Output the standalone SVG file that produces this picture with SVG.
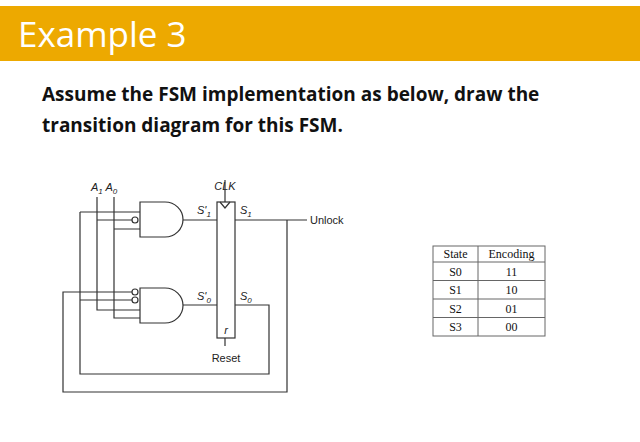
<svg xmlns="http://www.w3.org/2000/svg" width="640" height="442" viewBox="0 0 640 442">
<style>
.w{fill:none;stroke:#333;stroke-width:1.2}
.l{font-family:"Liberation Sans",Arial,sans-serif;font-size:11px;fill:#222}
.t{font-family:"Liberation Serif",serif;font-size:12px;fill:#111;text-anchor:middle}
.b{fill:#fff;stroke:#333;stroke-width:1.2}
</style>
<rect width="640" height="442" fill="#fff"/>
<rect x="0" y="6" width="640" height="55" fill="#EDA900"/>
<text x="18" y="47" font-family="Open Sans,sans-serif" font-size="35" fill="#fff">Example 3</text>
<text font-family="Open Sans,sans-serif" font-size="19" font-weight="bold" fill="#111"><tspan x="42" y="101">Assume the FSM implementation as below, draw the</tspan><tspan x="42" y="132">transition diagram for this FSM.</tspan></text>
<g id="connectors">
<path class="w" d="M97 197V310H140M114 197V318H140M97 220H132M114 229H140M80 212H140M80 212V374H269V305H235M80 300H132M287 220V392H63V292H132M183 220H217M183 305H217M235 220H307M225 180V202M225 338V346"/>
</g>
<g id="gate1"><path class="b" d="M140 202H165A18 17.5 0 0 1 165 237H140Z"/><circle class="b" cx="135" cy="220" r="3"/></g>
<g id="gate0"><path class="b" d="M140 288H165A18 17.5 0 0 1 165 323H140Z"/><circle class="b" cx="135" cy="292" r="3"/><circle class="b" cx="135" cy="300" r="3"/></g>
<g id="flop"><rect class="b" x="217" y="202" width="18" height="136"/><path class="w" d="M220 202L225 208L230 202"/>
<text class="l" x="225" y="190" text-anchor="middle" font-style="italic">CLK</text>
<text class="l" x="197" y="214" font-style="italic">S'<tspan font-size="8" dy="3">1</tspan></text>
<text class="l" x="240" y="214" font-style="italic">S<tspan font-size="8" dy="3">1</tspan></text>
<text class="l" x="197" y="300" font-style="italic">S'<tspan font-size="8" dy="3">0</tspan></text>
<text class="l" x="240" y="300" font-style="italic">S<tspan font-size="8" dy="3">0</tspan></text>
<text class="l" x="226" y="334" text-anchor="middle" font-style="italic">r</text>
<text class="l" x="226" y="362" text-anchor="middle">Reset</text></g>
<text class="l" x="91" y="191" font-style="italic">A<tspan font-size="8" dy="3">1</tspan><tspan dy="-3"> A</tspan><tspan font-size="8" dy="3">0</tspan></text>
<text class="l" x="310" y="224">Unlock</text>
<g id="table">
<rect x="433" y="246" width="112" height="90" fill="#fff" stroke="#666"/>
<path d="M478 246V336M433 262H545M433 280.5H545M433 299H545M433 317.5H545" stroke="#666" fill="none"/>
<text class="t" x="455.5" y="258">State</text><text class="t" x="511.5" y="258">Encoding</text>
<text class="t" x="455.5" y="275.5">S0</text><text class="t" x="511.5" y="275.5">11</text>
<text class="t" x="455.5" y="294">S1</text><text class="t" x="511.5" y="294">10</text>
<text class="t" x="455.5" y="312.5">S2</text><text class="t" x="511.5" y="312.5">01</text>
<text class="t" x="455.5" y="331">S3</text><text class="t" x="511.5" y="331">00</text>
</g>
</svg>
